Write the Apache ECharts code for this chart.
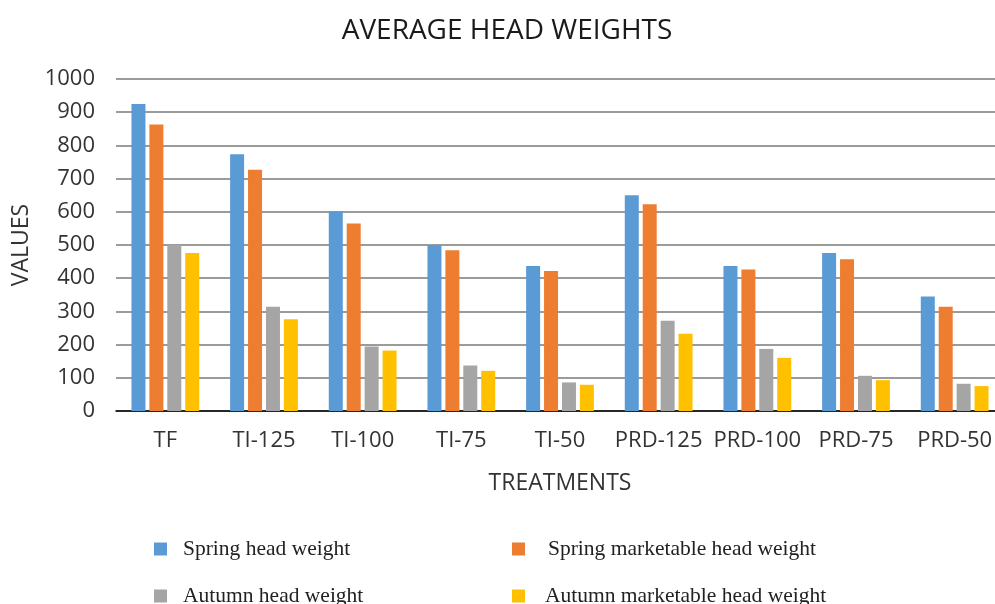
<!DOCTYPE html>
<html>
<head>
<meta charset="utf-8">
<style>
  html, body { margin: 0; padding: 0; background: #fff; }
  #chart { width: 995px; height: 604px; }
</style>
<script src="https://cdn.jsdelivr.net/npm/echarts@6/dist/echarts.min.js"></script>
</head>
<body>
<div id="chart"></div>
<script>
// categories and values
const treatments = ['TF', 'TI-125', 'TI-100', 'TI-75', 'TI-50', 'PRD-125', 'PRD-100', 'PRD-75', 'PRD-50']
const springHead = [925, 773, 602, 500, 437, 650, 437, 476, 345]
const springMarketable = [863, 727, 565, 484, 422, 623, 426, 457, 314]
const autumnHead = [500, 314, 194, 137, 86, 272, 187, 106, 82]
const autumnMarketable = [476, 276, 182, 121, 79, 233, 160, 93, 75]

const seriesNames = [
  'Spring head weight',
  'Spring marketable head weight',
  'Autumn head weight',
  'Autumn marketable head weight'
]
const seriesData = [springHead, springMarketable, autumnHead, autumnMarketable]
const seriesColors = ['#5B9BD5', '#ED7D31', '#A5A5A5', '#FFC000']

const chart = echarts.init(document.getElementById('chart'))

const series = []
for (let k = 0; k < seriesNames.length; k++) {
  series.push({
    name: seriesNames[k],
    type: 'bar',
    data: seriesData[k],
    barWidth: 14,
    barGap: '28%',
    itemStyle: { color: seriesColors[k] },
    animation: false
  })
}

// one legend per item so they sit in the 2x2 layout of the original
const legendPos = [
  { left: 154, top: 538, pad: 11 },
  { left: 512, top: 538, pad: 18 },
  { left: 154, top: 585, pad: 11 },
  { left: 512, top: 585, pad: 15 }
]
const legends = legendPos.map((p, k) => ({
  data: [seriesNames[k]],
  left: p.left,
  top: p.top,
  padding: 0,
  icon: 'rect',
  itemWidth: 13,
  itemHeight: 13,
  selectedMode: false,
  textStyle: {
    fontFamily: 'Liberation Serif',
    fontSize: 21.5,
    color: '#222',
    padding: [0, 0, 2, p.pad]
  }
}))

const option = {
  title: {
    text: 'AVERAGE HEAD WEIGHTS',
    left: 502,
    textAlign: 'center',
    top: 12,
    textStyle: {
      fontFamily: 'Open Sans',
      fontSize: 28,
      fontWeight: 'normal',
      color: '#1a1a1a'
    }
  },
  legend: legends,
  grid: {
    left: 116,
    right: -9,
    top: 79,
    bottom: 193,
    containLabel: false,
    outerBoundsMode: 'none'
  },
  xAxis: {
    type: 'category',
    data: treatments,
    name: 'TREATMENTS',
    nameLocation: 'middle',
    nameGap: 61,
    nameTextStyle: { fontFamily: 'Open Sans', fontSize: 23, color: '#333' },
    axisLine: { lineStyle: { color: '#000', width: 1.5 } },
    axisTick: { show: false },
    axisLabel: {
      interval: 0,
      margin: 19,
      fontFamily: 'Open Sans',
      fontSize: 22,
      color: '#333'
    }
  },
  yAxis: {
    type: 'value',
    min: 0,
    max: 1000,
    interval: 100,
    name: 'VALUES',
    nameLocation: 'middle',
    nameGap: 83,
    nameRotate: 90,
    nameTextStyle: { fontFamily: 'Open Sans', fontSize: 23, color: '#333' },
    axisLine: { show: false },
    axisTick: { show: false },
    axisLabel: {
      margin: 21,
      fontFamily: 'Open Sans',
      fontSize: 22,
      color: '#333',
      formatter: v => String(v)
    },
    splitLine: { lineStyle: { color: '#7a7a7a', width: 1.5 } }
  },
  series: series
}

chart.setOption(option)
</script>
</body>
</html>
